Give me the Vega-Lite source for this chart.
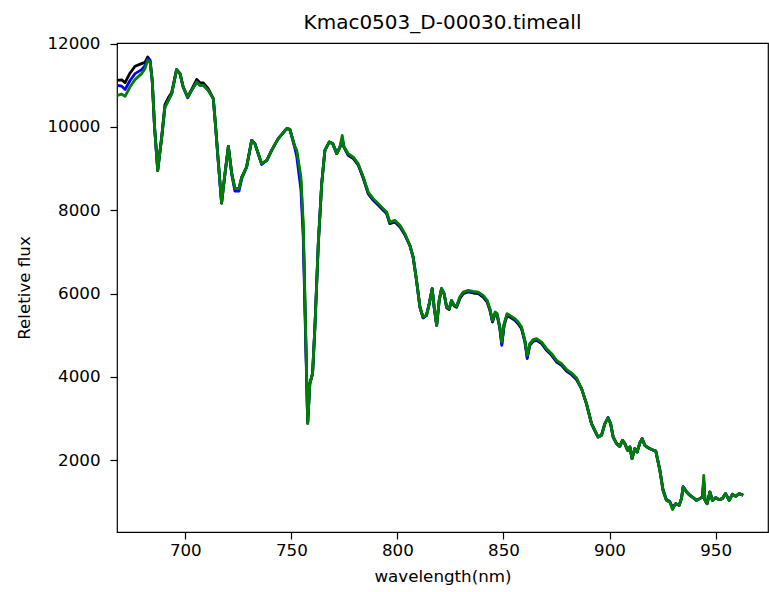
{
  "$schema": "https://vega.github.io/schema/vega-lite/v6.json",
  "width": 651,
  "height": 489,
  "autosize": {"type": "none"},
  "padding": {"left": 117, "top": 43, "right": 1, "bottom": 60},
  "background": "white",
  "title": {"text": "Kmac0503_D-00030.timeall", "fontSize": 20, "fontWeight": "normal", "color": "#000", "font": "DejaVu Sans", "baseline": "alphabetic", "offset": 14, "dy": 27, "anchor": "middle"},
  "data": {"values": [
    {"wl": 668.0, "k": 11120, "b": 11000, "g": 10760},
    {"wl": 670.0, "k": 11130, "b": 10980, "g": 10790},
    {"wl": 671.6, "k": 11065, "b": 10900, "g": 10735},
    {"wl": 673.9, "k": 11290, "b": 11110, "g": 10958},
    {"wl": 676.3, "k": 11456, "b": 11280, "g": 11136},
    {"wl": 679.4, "k": 11520, "b": 11376, "g": 11280},
    {"wl": 681.0, "k": 11550, "b": 11470, "g": 11400},
    {"wl": 682.3, "k": 11680, "b": 11640, "g": 11600},
    {"wl": 683.4, "k": 11600, "b": 11580, "g": 11560},
    {"wl": 684.4, "k": 11119, "b": 11119, "g": 11119},
    {"wl": 685.5, "k": 10000, "b": 10000, "g": 10000},
    {"wl": 687.0, "k": 8960, "b": 8960, "g": 8960},
    {"wl": 688.9, "k": 9780, "b": 9758, "g": 9758},
    {"wl": 690.4, "k": 10538, "b": 10478, "g": 10478},
    {"wl": 692.0, "k": 10700, "b": 10639, "g": 10639},
    {"wl": 693.6, "k": 10830, "b": 10799, "g": 10799},
    {"wl": 695.9, "k": 11376, "b": 11376, "g": 11376},
    {"wl": 697.5, "k": 11280, "b": 11280, "g": 11280},
    {"wl": 699.0, "k": 10958, "b": 10958, "g": 10958},
    {"wl": 701.1, "k": 10719, "b": 10700, "g": 10719},
    {"wl": 703.0, "k": 10900, "b": 10879, "g": 10879},
    {"wl": 705.4, "k": 11140, "b": 11079, "g": 11079},
    {"wl": 706.9, "k": 11060, "b": 11000, "g": 11000},
    {"wl": 708.5, "k": 11060, "b": 11000, "g": 11000},
    {"wl": 710.8, "k": 10920, "b": 10879, "g": 10879},
    {"wl": 713.2, "k": 10680, "b": 10680, "g": 10680},
    {"wl": 714.3, "k": 9998, "b": 9998, "g": 9998},
    {"wl": 715.5, "k": 9199, "b": 9199, "g": 9199},
    {"wl": 717.1, "k": 8175, "b": 8175, "g": 8175},
    {"wl": 718.7, "k": 8880, "b": 8880, "g": 8880},
    {"wl": 720.3, "k": 9535, "b": 9535, "g": 9535},
    {"wl": 721.9, "k": 8880, "b": 8860, "g": 8880},
    {"wl": 723.4, "k": 8520, "b": 8460, "g": 8520},
    {"wl": 725.3, "k": 8520, "b": 8460, "g": 8520},
    {"wl": 726.6, "k": 8798, "b": 8760, "g": 8798},
    {"wl": 728.9, "k": 9038, "b": 9038, "g": 9038},
    {"wl": 731.3, "k": 9679, "b": 9679, "g": 9679},
    {"wl": 732.8, "k": 9600, "b": 9600, "g": 9600},
    {"wl": 736.0, "k": 9120, "b": 9100, "g": 9120},
    {"wl": 738.4, "k": 9199, "b": 9199, "g": 9199},
    {"wl": 740.7, "k": 9439, "b": 9439, "g": 9439},
    {"wl": 743.8, "k": 9720, "b": 9720, "g": 9720},
    {"wl": 747.8, "k": 9960, "b": 9960, "g": 9960},
    {"wl": 749.3, "k": 9940, "b": 9940, "g": 9940},
    {"wl": 751.7, "k": 9518, "b": 9480, "g": 9518},
    {"wl": 752.5, "k": 9400, "b": 9300, "g": 9450},
    {"wl": 754.5, "k": 8700, "b": 8500, "g": 8800},
    {"wl": 755.6, "k": 7550, "b": 7350, "g": 7700},
    {"wl": 756.7, "k": 5100, "b": 4950, "g": 5200},
    {"wl": 757.7, "k": 2900, "b": 2900, "g": 2880},
    {"wl": 758.7, "k": 3840, "b": 3840, "g": 3840},
    {"wl": 760.0, "k": 4080, "b": 4080, "g": 4080},
    {"wl": 761.1, "k": 5200, "b": 5200, "g": 5200},
    {"wl": 762.7, "k": 7200, "b": 7200, "g": 7200},
    {"wl": 764.3, "k": 8640, "b": 8640, "g": 8640},
    {"wl": 765.8, "k": 9440, "b": 9440, "g": 9440},
    {"wl": 767.9, "k": 9640, "b": 9640, "g": 9640},
    {"wl": 769.5, "k": 9600, "b": 9600, "g": 9600},
    {"wl": 771.4, "k": 9360, "b": 9360, "g": 9360},
    {"wl": 772.9, "k": 9518, "b": 9518, "g": 9518},
    {"wl": 774.0, "k": 9700, "b": 9700, "g": 9799},
    {"wl": 774.8, "k": 9518, "b": 9518, "g": 9518},
    {"wl": 776.8, "k": 9320, "b": 9340, "g": 9360},
    {"wl": 779.2, "k": 9240, "b": 9260, "g": 9278},
    {"wl": 781.5, "k": 9090, "b": 9100, "g": 9120},
    {"wl": 783.9, "k": 8770, "b": 8780, "g": 8798},
    {"wl": 786.2, "k": 8400, "b": 8420, "g": 8438},
    {"wl": 788.6, "k": 8240, "b": 8260, "g": 8280},
    {"wl": 791.0, "k": 8120, "b": 8140, "g": 8160},
    {"wl": 793.3, "k": 8000, "b": 8020, "g": 8040},
    {"wl": 794.9, "k": 7920, "b": 7940, "g": 7958},
    {"wl": 796.4, "k": 7680, "b": 7700, "g": 7718},
    {"wl": 798.8, "k": 7720, "b": 7740, "g": 7759},
    {"wl": 801.2, "k": 7600, "b": 7620, "g": 7639},
    {"wl": 803.5, "k": 7410, "b": 7420, "g": 7440},
    {"wl": 805.9, "k": 7150, "b": 7150, "g": 7150},
    {"wl": 807.4, "k": 6878, "b": 6878, "g": 6878},
    {"wl": 809.0, "k": 6319, "b": 6319, "g": 6319},
    {"wl": 810.6, "k": 5679, "b": 5679, "g": 5679},
    {"wl": 812.1, "k": 5420, "b": 5420, "g": 5438},
    {"wl": 813.7, "k": 5479, "b": 5479, "g": 5479},
    {"wl": 815.0, "k": 5760, "b": 5760, "g": 5760},
    {"wl": 816.4, "k": 6120, "b": 6120, "g": 6120},
    {"wl": 817.3, "k": 5679, "b": 5679, "g": 5679},
    {"wl": 818.5, "k": 5239, "b": 5239, "g": 5239},
    {"wl": 819.7, "k": 5839, "b": 5839, "g": 5839},
    {"wl": 820.8, "k": 6120, "b": 6120, "g": 6120},
    {"wl": 822.0, "k": 6000, "b": 6000, "g": 6000},
    {"wl": 823.2, "k": 5660, "b": 5679, "g": 5679},
    {"wl": 824.4, "k": 5620, "b": 5640, "g": 5640},
    {"wl": 825.5, "k": 5820, "b": 5839, "g": 5839},
    {"wl": 826.8, "k": 5700, "b": 5719, "g": 5719},
    {"wl": 827.9, "k": 5670, "b": 5695, "g": 5695},
    {"wl": 829.4, "k": 5878, "b": 5898, "g": 5918},
    {"wl": 831.0, "k": 5998, "b": 6018, "g": 6038},
    {"wl": 833.4, "k": 6039, "b": 6059, "g": 6079},
    {"wl": 835.7, "k": 6015, "b": 6035, "g": 6055},
    {"wl": 838.1, "k": 5998, "b": 6018, "g": 6038},
    {"wl": 840.4, "k": 5919, "b": 5939, "g": 5959},
    {"wl": 842.3, "k": 5799, "b": 5819, "g": 5839},
    {"wl": 843.6, "k": 5600, "b": 5620, "g": 5640},
    {"wl": 844.8, "k": 5319, "b": 5339, "g": 5359},
    {"wl": 846.1, "k": 5519, "b": 5539, "g": 5559},
    {"wl": 847.0, "k": 5480, "b": 5500, "g": 5520},
    {"wl": 848.3, "k": 5158, "b": 5178, "g": 5198},
    {"wl": 849.2, "k": 4798, "b": 4760, "g": 4838},
    {"wl": 850.3, "k": 5240, "b": 5260, "g": 5280},
    {"wl": 851.7, "k": 5480, "b": 5500, "g": 5520},
    {"wl": 853.0, "k": 5439, "b": 5459, "g": 5479},
    {"wl": 855.4, "k": 5360, "b": 5380, "g": 5400},
    {"wl": 856.9, "k": 5279, "b": 5299, "g": 5319},
    {"wl": 858.5, "k": 5158, "b": 5178, "g": 5198},
    {"wl": 860.1, "k": 4839, "b": 4859, "g": 4879},
    {"wl": 861.2, "k": 4479, "b": 4440, "g": 4519},
    {"wl": 862.4, "k": 4759, "b": 4779, "g": 4799},
    {"wl": 864.0, "k": 4855, "b": 4875, "g": 4895},
    {"wl": 865.6, "k": 4879, "b": 4899, "g": 4919},
    {"wl": 868.0, "k": 4798, "b": 4818, "g": 4838},
    {"wl": 870.3, "k": 4639, "b": 4659, "g": 4679},
    {"wl": 872.7, "k": 4519, "b": 4539, "g": 4559},
    {"wl": 875.0, "k": 4359, "b": 4379, "g": 4399},
    {"wl": 877.4, "k": 4279, "b": 4299, "g": 4319},
    {"wl": 879.7, "k": 4140, "b": 4160, "g": 4180},
    {"wl": 882.1, "k": 4054, "b": 4074, "g": 4094},
    {"wl": 884.4, "k": 3940, "b": 3960, "g": 3980},
    {"wl": 886.8, "k": 3720, "b": 3720, "g": 3720},
    {"wl": 889.1, "k": 3360, "b": 3360, "g": 3360},
    {"wl": 891.5, "k": 2880, "b": 2880, "g": 2880},
    {"wl": 893.1, "k": 2700, "b": 2719, "g": 2719},
    {"wl": 894.6, "k": 2559, "b": 2559, "g": 2559},
    {"wl": 896.2, "k": 2600, "b": 2600, "g": 2600},
    {"wl": 897.8, "k": 2880, "b": 2880, "g": 2880},
    {"wl": 899.3, "k": 3014, "b": 3030, "g": 3014},
    {"wl": 900.5, "k": 2880, "b": 2880, "g": 2880},
    {"wl": 901.7, "k": 2559, "b": 2559, "g": 2559},
    {"wl": 903.3, "k": 2400, "b": 2400, "g": 2400},
    {"wl": 904.8, "k": 2335, "b": 2335, "g": 2335},
    {"wl": 906.1, "k": 2479, "b": 2479, "g": 2479},
    {"wl": 907.2, "k": 2400, "b": 2400, "g": 2400},
    {"wl": 908.5, "k": 2239, "b": 2239, "g": 2239},
    {"wl": 909.6, "k": 2319, "b": 2319, "g": 2319},
    {"wl": 910.6, "k": 2040, "b": 2040, "g": 2040},
    {"wl": 911.9, "k": 2280, "b": 2280, "g": 2280},
    {"wl": 913.0, "k": 2199, "b": 2199, "g": 2199},
    {"wl": 914.3, "k": 2420, "b": 2420, "g": 2420},
    {"wl": 915.4, "k": 2520, "b": 2520, "g": 2520},
    {"wl": 916.6, "k": 2359, "b": 2359, "g": 2359},
    {"wl": 918.2, "k": 2300, "b": 2300, "g": 2300},
    {"wl": 919.8, "k": 2260, "b": 2260, "g": 2260},
    {"wl": 921.8, "k": 2220, "b": 2220, "g": 2220},
    {"wl": 923.7, "k": 1760, "b": 1780, "g": 1760},
    {"wl": 925.2, "k": 1279, "b": 1300, "g": 1279},
    {"wl": 926.8, "k": 1039, "b": 1060, "g": 1039},
    {"wl": 928.4, "k": 999, "b": 1010, "g": 999},
    {"wl": 929.7, "k": 860, "b": 860, "g": 816},
    {"wl": 931.2, "k": 959, "b": 959, "g": 959},
    {"wl": 932.8, "k": 919, "b": 919, "g": 919},
    {"wl": 933.9, "k": 1080, "b": 1080, "g": 1080},
    {"wl": 934.7, "k": 1359, "b": 1370, "g": 1359},
    {"wl": 936.3, "k": 1239, "b": 1250, "g": 1239},
    {"wl": 937.8, "k": 1160, "b": 1170, "g": 1160},
    {"wl": 939.4, "k": 1104, "b": 1104, "g": 1104},
    {"wl": 941.0, "k": 1039, "b": 1039, "g": 1039},
    {"wl": 942.5, "k": 1080, "b": 1080, "g": 1080},
    {"wl": 943.8, "k": 1119, "b": 1119, "g": 1119},
    {"wl": 944.4, "k": 1500, "b": 1500, "g": 1639},
    {"wl": 945.0, "k": 1039, "b": 1039, "g": 1039},
    {"wl": 946.0, "k": 959, "b": 959, "g": 959},
    {"wl": 947.3, "k": 1239, "b": 1239, "g": 1239},
    {"wl": 948.5, "k": 1039, "b": 1039, "g": 1039},
    {"wl": 950.1, "k": 1104, "b": 1104, "g": 1104},
    {"wl": 951.6, "k": 1056, "b": 1056, "g": 1056},
    {"wl": 953.2, "k": 1080, "b": 1080, "g": 1080},
    {"wl": 954.7, "k": 1200, "b": 1200, "g": 1200},
    {"wl": 956.4, "k": 1039, "b": 1039, "g": 1039},
    {"wl": 957.9, "k": 1183, "b": 1183, "g": 1183},
    {"wl": 959.5, "k": 1135, "b": 1135, "g": 1135},
    {"wl": 961.1, "k": 1200, "b": 1200, "g": 1200},
    {"wl": 963.0, "k": 1160, "b": 1160, "g": 1160}
  ]},
  "encoding": {
    "x": {"field": "wl", "type": "quantitative",
      "scale": {"domain": [667.8, 974.7], "nice": false, "zero": false},
      "axis": {"title": "wavelength(nm)", "values": [700, 750, 800, 850, 900, 950], "format": "d", "labelPadding": 3, "titlePadding": 10}}
  },
  "layer": [
    {"mark": {"type": "line", "color": "#000000", "strokeWidth": 2.8, "strokeJoin": "round", "clip": true},
     "encoding": {"y": {"field": "k", "type": "quantitative",
       "scale": {"domain": [279, 12015], "nice": false, "zero": false},
       "axis": {"title": "Reletive flux", "values": [2000, 4000, 6000, 8000, 10000, 12000], "format": "d", "labelPadding": 10, "titlePadding": 13}}}},
    {"mark": {"type": "line", "color": "#0000ff", "strokeWidth": 2.8, "strokeJoin": "round", "clip": true},
     "encoding": {"y": {"field": "b", "type": "quantitative"}}},
    {"mark": {"type": "line", "color": "#008000", "strokeWidth": 2.8, "strokeJoin": "round", "clip": true},
     "encoding": {"y": {"field": "g", "type": "quantitative"}}}
  ],
  "config": {
    "font": "DejaVu Sans",
    "view": {"stroke": "#000000", "strokeWidth": 1.2},
    "axis": {"grid": false, "domain": false, "ticks": true, "tickColor": "#000000", "tickWidth": 1.2, "tickSize": 7,
      "labelFont": "DejaVu Sans", "labelFontSize": 16.7, "labelColor": "#000000",
      "titleFont": "DejaVu Sans", "titleFontSize": 16.7, "titleFontWeight": "normal", "titleColor": "#000000"}
  }
}
